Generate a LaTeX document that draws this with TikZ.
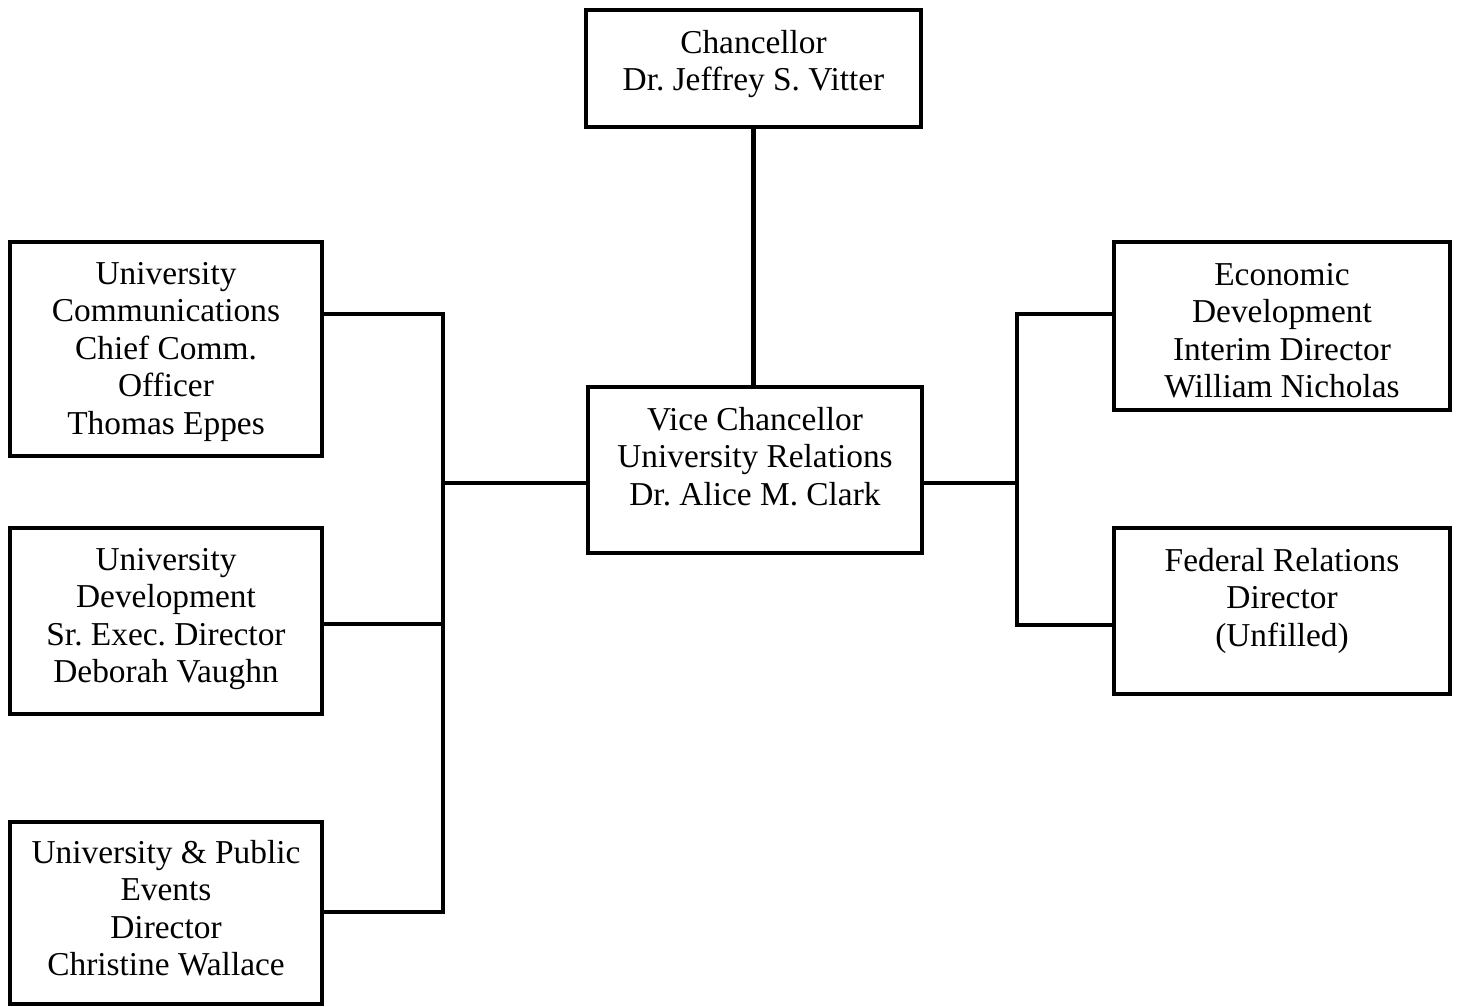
\documentclass[tikz,border=0pt]{standalone}
\usepackage{fontspec}
\setmainfont{Liberation Serif}
\usetikzlibrary{positioning}

\tikzset{
    box/.style={draw, line width=2.4pt, inner sep=0pt},
    lbl/.style={anchor=north, inner sep=0pt, align=center,
        font=\fontsize{19}{21.34}\selectfont},
    conn/.style={line width=2.5pt, line join=miter}
}

\begin{document}
\frenchspacing
\begin{tikzpicture}[x=0.02cm, y=-0.02cm]
    \useasboundingbox (0,0) rectangle (1460,1007);

    % Chancellor
    \node[box, minimum width=6.70cm, minimum height=2.34cm] (chan) at (753.5, 68.5) {};
    \node[lbl] (chan-t) at ([yshift=-0.44cm]chan.north) {Chancellor\\Dr. Jeffrey S. Vitter};

    % Vice Chancellor
    \node[box, minimum width=6.68cm, minimum height=3.32cm] (vc) at (755, 470) {};
    \node[lbl] (vc-t) at ([yshift=-0.44cm]vc.north) {Vice Chancellor\\University Relations\\Dr. Alice M. Clark};

    % Left side
    \node[box, minimum width=6.24cm, minimum height=4.28cm] (uc) at (166, 349) {};
    \node[lbl] (uc-t) at ([yshift=-0.44cm]uc.north) {University\\Communications\\Chief Comm.\\Officer\\Thomas Eppes};

    \node[box, minimum width=6.24cm, minimum height=3.72cm] (ud) at (166, 621) {};
    \node[lbl] (ud-t) at ([yshift=-0.44cm]ud.north) {University\\Development\\Sr. Exec. Director\\Deborah Vaughn};

    \node[box, minimum width=6.24cm, minimum height=3.64cm] (upe) at (166, 913) {};
    \node[lbl] (upe-t) at ([yshift=-0.40cm]upe.north) {University \& Public\\Events\\Director\\Christine Wallace};

    % Right side
    \node[box, minimum width=6.72cm, minimum height=3.36cm] (econ) at (1282, 326) {};
    \node[lbl] (econ-t) at ([yshift=-0.46cm]econ.north) {Economic\\Development\\Interim Director\\William Nicholas};

    \node[box, minimum width=6.72cm, minimum height=3.32cm] (fed) at (1282, 611) {};
    \node[lbl] (fed-t) at ([yshift=-0.44cm]fed.north) {Federal Relations\\Director\\(Unfilled)};

    % Connectors
    \coordinate (lbus) at (443, 483);
    \coordinate (rbus) at (1017, 483);
    \draw[conn] (chan.south) -- (chan.south |- vc.north);
    \draw[conn] (vc.west |- lbus) -- (lbus);
    \draw[conn] (uc.east |- 0,314) -| (lbus |- 0,912) -- (upe.east |- 0,912);
    \draw[conn] (ud.east |- 0,624) -- (lbus |- 0,624);
    \draw[conn] (vc.east |- rbus) -- (rbus);
    \draw[conn] (econ.west |- 0,314) -| (rbus |- 0,625) -- (fed.west |- 0,625);
\end{tikzpicture}
\end{document}
